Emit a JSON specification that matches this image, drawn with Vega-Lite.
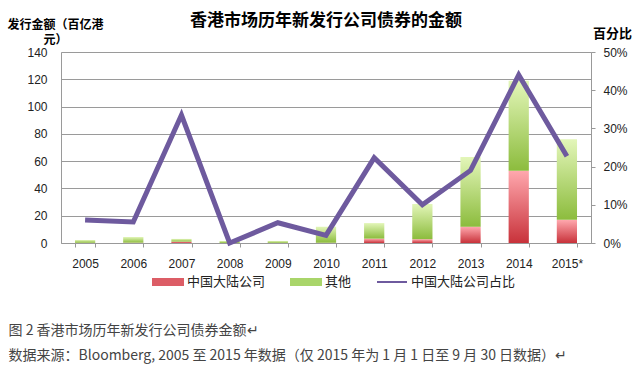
{
  "$schema": "https://vega.github.io/schema/vega-lite/v6.json",
  "width": 530,
  "height": 191,
  "autosize": {"type": "none"},
  "padding": {"left": 61, "top": 52, "right": 49, "bottom": 138},
  "background": "white",
  "title": {"text": "香港市场历年新发行公司债券的金额", "font": "Noto Sans CJK SC", "fontSize": 17, "fontWeight": "bold", "color": "#000", "anchor": "middle", "offset": -12},
  "data": {"values": [
    {"year": "2005", "mainland": 0.13, "total": 2.2, "ratio": 0.06},
    {"year": "2006", "mainland": 0.24, "total": 4.4, "ratio": 0.055},
    {"year": "2007", "mainland": 1.0, "total": 3.0, "ratio": 0.335},
    {"year": "2008", "mainland": 0, "total": 1.5, "ratio": 0.0},
    {"year": "2009", "mainland": 0.08, "total": 1.5, "ratio": 0.053},
    {"year": "2010", "mainland": 0.25, "total": 12, "ratio": 0.02},
    {"year": "2011", "mainland": 3.2, "total": 14.6, "ratio": 0.223},
    {"year": "2012", "mainland": 2.8, "total": 28.6, "ratio": 0.10},
    {"year": "2013", "mainland": 12, "total": 63, "ratio": 0.19},
    {"year": "2014", "mainland": 53, "total": 119, "ratio": 0.44},
    {"year": "2015*", "mainland": 17, "total": 76, "ratio": 0.227}
  ]},
  "encoding": {
    "x": {
      "field": "year", "type": "nominal", "sort": null,
      "scale": {"paddingInner": 0.58, "paddingOuter": 0.29},
      "axis": {
        "title": ["图 2 香港市场历年新发行公司债券金额↵", "数据来源：Bloomberg, 2005 至 2015 年数据（仅 2015 年为 1 月 1 日至 9 月 30 日数据）↵"],
        "titleFont": "Noto Sans CJK SC", "titleFontSize": 14, "titleFontWeight": "normal", "titleColor": "#444",
        "titleAlign": "left", "titleAnchor": "start", "titleX": -53, "titleY": 80, "titleBaseline": "top", "titleLineHeight": 25,
        "labelAngle": 0, "labelFont": "Liberation Sans", "labelFontSize": 12, "labelColor": "#222", "labelPadding": 11,
        "tickBand": "extent", "tickSize": 4, "tickColor": "#999", "domainColor": "#999", "grid": false
      }
    }
  },
  "layer": [
    {
      "encoding": {
        "y": {
          "field": "mainland", "type": "quantitative",
          "scale": {"domain": [0, 140]},
          "axis": {
            "title": ["发行金额（百亿港", "元）"], "titleAngle": 0, "titleAlign": "center", "titleBaseline": "top",
            "titleX": -6, "titleY": -33, "titleFontSize": 12, "titleFontWeight": "bold", "titleFont": "Noto Sans CJK SC",
            "titleColor": "#000", "titleLineHeight": 15,
            "values": [0, 20, 40, 60, 80, 100, 120, 140], "labelOverlap": false,
            "ticks": false, "labelPadding": 14, "labelFont": "Liberation Sans", "labelFontSize": 12, "labelColor": "#222",
            "grid": true, "gridColor": "#9a9a9a", "domainColor": "#9a9a9a"
          }
        }
      },
      "layer": [
        {
          "mark": {"type": "bar", "strokeWidth": 0, "fill": {"gradient": "linear", "x1": 0, "y1": 0, "x2": 0, "y2": 1, "stops": [{"offset": 0, "color": "#ffa8ae"}, {"offset": 1, "color": "#c8323a"}]}},
          "encoding": {
            "stroke": {
              "datum": "中国大陆公司",
              "scale": {
                "domain": ["中国大陆公司", "其他", "中国大陆公司占比"],
                "range": ["#dc5d66", "#a9d56a", "#6e5a9e"]
              },
              "legend": {
                "orient": "none", "legendX": 91, "legendY": 214, "direction": "horizontal", "title": null,
                "labelFont": "Noto Sans CJK SC", "labelFontSize": 13, "labelColor": "#222",
                "symbolSize": 900, "labelOffset": 3, "columnPadding": 21,
                "encoding": {
                  "symbols": {
                    "shape": {"value": {"expr": "datum.value === '中国大陆公司占比' ? 'M-1,0H1' : 'M-1,-0.2H1V0.2H-1Z'"}},
                    "fill": {"value": {"expr": "datum.value === '中国大陆公司占比' ? 'transparent' : (datum.value === '中国大陆公司' ? '#dc5d66' : '#a9d56a')"}},
                    "stroke": {"value": {"expr": "datum.value === '中国大陆公司占比' ? '#6e5a9e' : 'transparent'"}},
                    "strokeWidth": {"value": 2},
                    "strokeOpacity": {"value": 1},
                    "opacity": {"value": 1}
                  }
                }
              }
            }
          }
        },
        {
          "mark": {"type": "bar", "strokeWidth": 0, "fill": {"gradient": "linear", "x1": 0, "y1": 0, "x2": 0, "y2": 1, "stops": [{"offset": 0, "color": "#e3f6b9"}, {"offset": 1, "color": "#8cbc3d"}]}},
          "encoding": {
            "y2": {"field": "total"},
            "stroke": {"datum": "其他"}
          }
        }
      ]
    },
    {
      "mark": {"type": "line", "strokeWidth": 5},
      "encoding": {
        "y": {
          "field": "ratio", "type": "quantitative",
          "scale": {"domain": [0, 0.5]},
          "axis": {
            "orient": "right", "format": ".0%", "values": [0, 0.1, 0.2, 0.3, 0.4, 0.5],
            "title": "百分比", "titleAngle": 0, "titleAlign": "center", "titleBaseline": "middle",
            "titleX": 21, "titleY": -19, "titleFontSize": 13, "titleFontWeight": "bold", "titleFont": "Noto Sans CJK SC", "titleColor": "#000",
            "grid": false, "tickSize": 4, "tickColor": "#999", "domainColor": "#999", "labelPadding": 8,
            "labelFont": "Liberation Sans", "labelFontSize": 12, "labelColor": "#222"
          }
        },
        "stroke": {"datum": "中国大陆公司占比"}
      }
    }
  ],
  "resolve": {"scale": {"y": "independent"}}
}
